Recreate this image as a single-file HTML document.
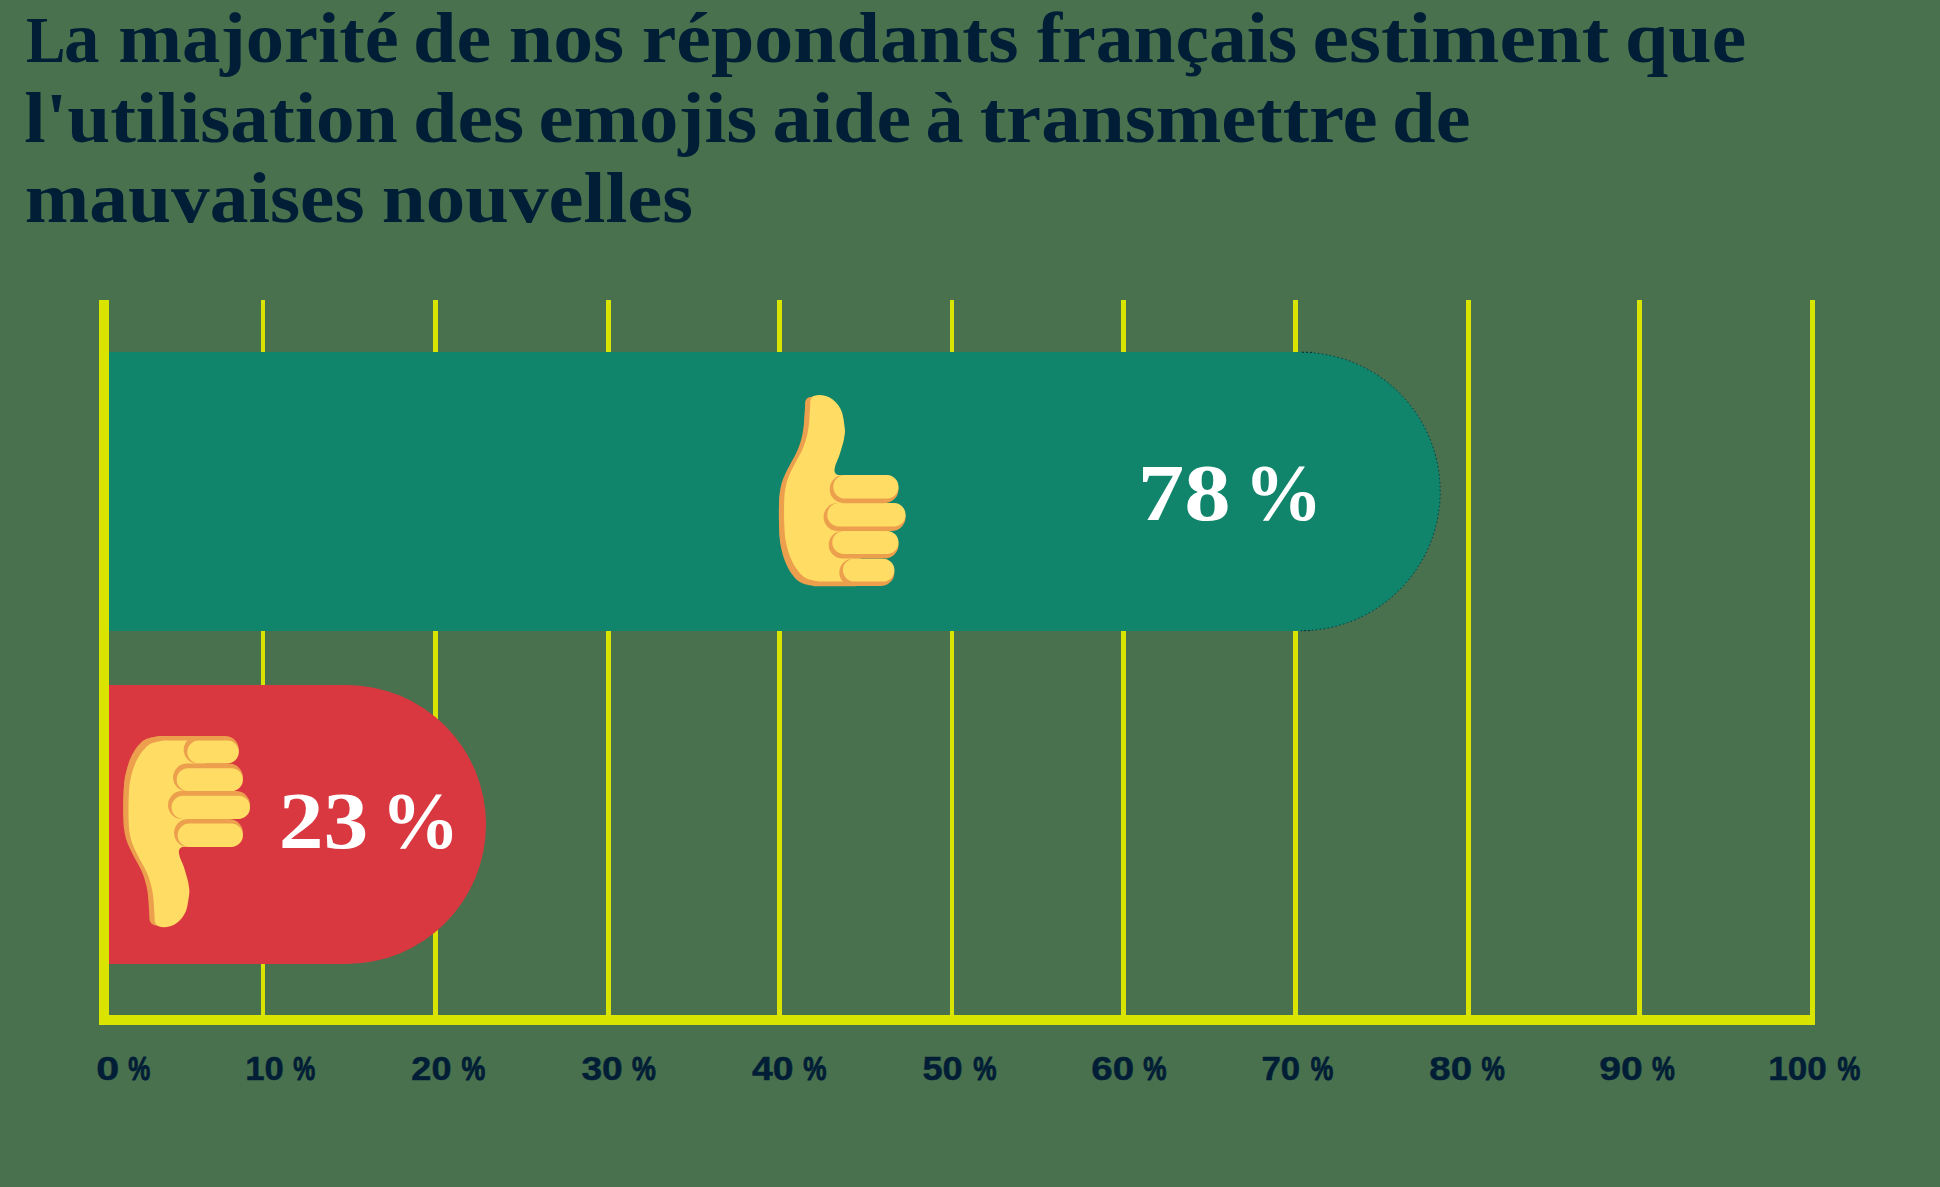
<!DOCTYPE html>
<html lang="fr">
<head>
<meta charset="utf-8">
<title>Emojis et mauvaises nouvelles</title>
<style>
  html, body { margin: 0; padding: 0; }
  body { width: 1940px; height: 1187px; overflow: hidden; background: #49714e; font-family: "Liberation Sans", sans-serif; }
  #chart { position: absolute; left: 0; top: 0; width: 1940px; height: 1187px; display: block; }
  .tt { font-family: "Liberation Serif", serif; font-weight: bold; font-size: 72px; fill: #021e36; }
  .vv { font-family: "Liberation Serif", serif; font-weight: bold; font-size: 80px; fill: #ffffff; }
  .aa { font-family: "Liberation Sans", sans-serif; font-weight: bold; font-size: 33px; fill: #021e36; stroke: #021e36; stroke-width: 0.5px; stroke-linejoin: round; }
  .ap { stroke-width: 1px; }
</style>
</head>
<body>
<svg id="chart" width="1940" height="1187" viewBox="0 0 1940 1187">
  <defs>
    <g id="thumb">
    <path d="M182.2 847.1C181.9 847.3 180.8 847.6 180.2 848.3C179.6 849.0 179.0 849.9 178.9 851.3C178.8 852.6 179.3 854.9 179.7 856.4C180.1 857.9 180.5 858.7 181.2 860.4C181.9 862.1 182.7 863.5 183.7 866.5C184.7 869.5 186.5 875.6 187.3 878.6C188.1 881.6 188.3 882.3 188.6 884.7C188.9 887.1 189.6 888.8 189.3 892.8C189.0 896.8 187.8 904.9 186.6 909.0C185.4 913.1 183.9 915.1 182.3 917.4C180.7 919.7 178.8 921.4 176.8 922.9C174.8 924.4 172.5 925.5 170.2 926.2C167.9 926.9 165.1 927.3 163.0 927.2C160.9 927.1 158.9 926.6 157.6 925.8C156.2 924.9 155.4 923.7 154.9 922.1C154.4 920.5 154.8 918.7 154.6 916.0C154.4 913.3 154.1 908.8 153.9 905.9C153.7 903.0 153.7 901.7 153.4 898.8C153.1 895.9 152.7 892.4 151.9 888.7C151.1 885.0 149.7 880.1 148.4 876.6C147.1 873.1 145.8 870.5 144.3 867.5C142.8 864.5 140.9 861.4 139.3 858.4C137.7 855.4 136.0 852.3 134.7 849.3C133.3 846.3 132.1 843.4 131.2 840.2C130.3 837.0 129.6 833.5 129.2 830.1C128.8 826.7 128.7 824.9 128.6 820.0C128.5 815.1 128.3 807.4 128.6 800.8C128.9 794.2 128.8 787.2 130.2 780.5C131.5 773.8 133.7 766.2 136.7 760.3C139.7 754.4 143.9 748.5 148.4 745.2C152.9 741.9 161.0 741.4 163.5 740.6L205 740.6L205 847.1Z" fill="#ec9f4d" transform="translate(-5 -4.7)"/>
    <path d="M182.2 847.1C181.9 847.3 180.8 847.6 180.2 848.3C179.6 849.0 179.0 849.9 178.9 851.3C178.8 852.6 179.3 854.9 179.7 856.4C180.1 857.9 180.5 858.7 181.2 860.4C181.9 862.1 182.7 863.5 183.7 866.5C184.7 869.5 186.5 875.6 187.3 878.6C188.1 881.6 188.3 882.3 188.6 884.7C188.9 887.1 189.6 888.8 189.3 892.8C189.0 896.8 187.8 904.9 186.6 909.0C185.4 913.1 183.9 915.1 182.3 917.4C180.7 919.7 178.8 921.4 176.8 922.9C174.8 924.4 172.5 925.5 170.2 926.2C167.9 926.9 165.1 927.3 163.0 927.2C160.9 927.1 158.9 926.6 157.6 925.8C156.2 924.9 155.4 923.7 154.9 922.1C154.4 920.5 154.8 918.7 154.6 916.0C154.4 913.3 154.1 908.8 153.9 905.9C153.7 903.0 153.7 901.7 153.4 898.8C153.1 895.9 152.7 892.4 151.9 888.7C151.1 885.0 149.7 880.1 148.4 876.6C147.1 873.1 145.8 870.5 144.3 867.5C142.8 864.5 140.9 861.4 139.3 858.4C137.7 855.4 136.0 852.3 134.7 849.3C133.3 846.3 132.1 843.4 131.2 840.2C130.3 837.0 129.6 833.5 129.2 830.1C128.8 826.7 128.7 824.9 128.6 820.0C128.5 815.1 128.3 807.4 128.6 800.8C128.9 794.2 128.8 787.2 130.2 780.5C131.5 773.8 133.7 766.2 136.7 760.3C139.7 754.4 143.9 748.5 148.4 745.2C152.9 741.9 161.0 741.4 163.5 740.6L205 740.6L205 847.1Z" fill="#ec9f4d" transform="translate(-5.2 -1.5)"/>
    <path d="M182.2 847.1C181.9 847.3 180.8 847.6 180.2 848.3C179.6 849.0 179.0 849.9 178.9 851.3C178.8 852.6 179.3 854.9 179.7 856.4C180.1 857.9 180.5 858.7 181.2 860.4C181.9 862.1 182.7 863.5 183.7 866.5C184.7 869.5 186.5 875.6 187.3 878.6C188.1 881.6 188.3 882.3 188.6 884.7C188.9 887.1 189.6 888.8 189.3 892.8C189.0 896.8 187.8 904.9 186.6 909.0C185.4 913.1 183.9 915.1 182.3 917.4C180.7 919.7 178.8 921.4 176.8 922.9C174.8 924.4 172.5 925.5 170.2 926.2C167.9 926.9 165.1 927.3 163.0 927.2C160.9 927.1 158.9 926.6 157.6 925.8C156.2 924.9 155.4 923.7 154.9 922.1C154.4 920.5 154.8 918.7 154.6 916.0C154.4 913.3 154.1 908.8 153.9 905.9C153.7 903.0 153.7 901.7 153.4 898.8C153.1 895.9 152.7 892.4 151.9 888.7C151.1 885.0 149.7 880.1 148.4 876.6C147.1 873.1 145.8 870.5 144.3 867.5C142.8 864.5 140.9 861.4 139.3 858.4C137.7 855.4 136.0 852.3 134.7 849.3C133.3 846.3 132.1 843.4 131.2 840.2C130.3 837.0 129.6 833.5 129.2 830.1C128.8 826.7 128.7 824.9 128.6 820.0C128.5 815.1 128.3 807.4 128.6 800.8C128.9 794.2 128.8 787.2 130.2 780.5C131.5 773.8 133.7 766.2 136.7 760.3C139.7 754.4 143.9 748.5 148.4 745.2C152.9 741.9 161.0 741.4 163.5 740.6L205 740.6L205 847.1Z" fill="#ffdc64"/>
    <rect x="183.7" y="736.0" width="55.1" height="27.4" rx="13.7" fill="#ec9f4d"/>
    <rect x="187.3" y="740.6" width="51.5" height="22.8" rx="11.4" fill="#ffdc64"/>
    <rect x="173.1" y="763.6" width="69.8" height="27.6" rx="13.8" fill="#ec9f4d"/>
    <rect x="176.7" y="768.2" width="66.2" height="23.0" rx="11.5" fill="#ffdc64"/>
    <rect x="168.0" y="791.1" width="82.0" height="27.9" rx="13.9" fill="#ec9f4d"/>
    <rect x="171.6" y="795.7" width="78.4" height="23.3" rx="11.6" fill="#ffdc64"/>
    <rect x="174.1" y="818.9" width="68.8" height="28.1" rx="14.1" fill="#ec9f4d"/>
    <rect x="177.7" y="823.5" width="65.2" height="23.5" rx="11.8" fill="#ffdc64"/>
    </g>
  </defs>
  <!-- gridlines and axes -->
  <g fill="#d9e500">
    <rect x="261" y="300" width="4" height="720"/>
    <rect x="433" y="300" width="5" height="720"/>
    <rect x="606" y="300" width="5" height="720"/>
    <rect x="777" y="300" width="5" height="720"/>
    <rect x="950" y="300" width="4" height="720"/>
    <rect x="1121" y="300" width="5" height="720"/>
    <rect x="1293" y="300" width="5" height="720"/>
    <rect x="1466" y="300" width="5" height="720"/>
    <rect x="1637" y="300" width="5" height="720"/>
    <rect x="1810" y="300" width="5" height="725"/>
    <rect x="99" y="300" width="10" height="725"/>
    <rect x="99" y="1015" width="1716" height="10"/>
  </g>
  <!-- bars -->
  <path fill="#10856b" d="M109 352 H1301 A139.5 139.5 0 0 1 1301 631 H109 Z"/>
  <path fill="#d93840" d="M109 685 H346.5 A139.5 139.5 0 0 1 346.5 964 H109 Z"/>
  <path fill="none" stroke="#021e36" stroke-width="1" stroke-dasharray="1.3 2.7" stroke-opacity="0.85" d="M1312 352.3 H1301 A139.2 139.2 0 0 1 1301 630.7 H1312"/>
  <!-- emojis -->
  <use href="#thumb"/>
  <use href="#thumb" transform="translate(655.6 1322.1) scale(1 -1)"/>
  <!-- title -->
  <g>
    <text class="tt" transform="translate(26.08 61.50) scale(0.8205 0.9)">L</text>
  <text class="tt" transform="translate(64.03 61.50) scale(0.9852 1.0)">a</text>
  <text class="tt" transform="translate(118.30 61.50) scale(1.0626 1.0)">majorité</text>
  <text class="tt" transform="translate(413.06 61.50) scale(1.0856 1.0)">de</text>
  <text class="tt" transform="translate(508.75 61.50) scale(1.1087 1.0)">nos</text>
  <text class="tt" transform="translate(641.78 61.50) scale(1.0826 1.0)">répondants</text>
  <text class="tt" transform="translate(1037.00 61.50) scale(1.0488 1.0)">français</text>
  <text class="tt" transform="translate(1312.43 61.50) scale(1.1415 1.0)">estiment</text>
  <text class="tt" transform="translate(1625.07 61.50) scale(1.0812 1.0)">que</text>
  <text class="tt" transform="translate(24.29 142.00) scale(1.0728 1.0)">l'utilisation</text>
  <text class="tt" transform="translate(413.00 142.00) scale(1.1111 1.0)">des</text>
  <text class="tt" transform="translate(538.54 142.00) scale(1.0932 1.0)">emojis</text>
  <text class="tt" transform="translate(772.56 142.00) scale(1.0832 1.0)">aide</text>
  <text class="tt" transform="translate(925.62 142.00) scale(1.0593 1.0)">à</text>
  <text class="tt" transform="translate(979.76 142.00) scale(1.0979 1.0)">transmettre</text>
  <text class="tt" transform="translate(1392.05 142.00) scale(1.0892 1.0)">de</text>
  <text class="tt" transform="translate(24.79 222.00) scale(1.0753 1.0)">mauvaises</text>
  <text class="tt" transform="translate(381.77 222.00) scale(1.0962 1.0)">nouvelles</text>
  </g>
  <!-- value labels -->
  <g>
    <text class="vv" transform="translate(1137.75 519.60) scale(1.1607 1.0)">78</text>
  <text class="vv" transform="translate(1244.17 519.60) scale(0.9769 1.0)">%</text>
  <text class="vv" transform="translate(278.70 848.00) scale(1.1200 1.0)">23</text>
  <text class="vv" transform="translate(381.37 848.00) scale(0.9769 1.0)">%</text>
  </g>
  <!-- axis labels -->
  <g>
    <text class="aa" transform="translate(96.21 1080.30) scale(1.2512 1.0)">0</text>
  <text class="aa ap" transform="translate(128.36 1080.30) scale(0.7493 1.0)">%</text>
  <text class="aa" transform="translate(245.33 1080.30) scale(1.0509 1.0)">10</text>
  <text class="aa ap" transform="translate(293.36 1080.30) scale(0.7493 1.0)">%</text>
  <text class="aa" transform="translate(411.37 1080.30) scale(1.0921 1.0)">20</text>
  <text class="aa ap" transform="translate(461.58 1080.30) scale(0.8110 1.0)">%</text>
  <text class="aa" transform="translate(581.42 1080.30) scale(1.1262 1.0)">30</text>
  <text class="aa ap" transform="translate(632.08 1080.30) scale(0.8110 1.0)">%</text>
  <text class="aa" transform="translate(752.00 1080.30) scale(1.1309 1.0)">40</text>
  <text class="aa ap" transform="translate(803.34 1080.30) scale(0.7934 1.0)">%</text>
  <text class="aa" transform="translate(922.43 1080.30) scale(1.0975 1.0)">50</text>
  <text class="aa ap" transform="translate(973.34 1080.30) scale(0.7934 1.0)">%</text>
  <text class="aa" transform="translate(1091.30 1080.30) scale(1.1649 1.0)">60</text>
  <text class="aa ap" transform="translate(1143.34 1080.30) scale(0.7934 1.0)">%</text>
  <text class="aa" transform="translate(1261.41 1080.30) scale(1.0557 1.0)">70</text>
  <text class="aa ap" transform="translate(1310.85 1080.30) scale(0.7669 1.0)">%</text>
  <text class="aa" transform="translate(1429.30 1080.30) scale(1.1649 1.0)">80</text>
  <text class="aa ap" transform="translate(1481.59 1080.30) scale(0.7934 1.0)">%</text>
  <text class="aa" transform="translate(1599.28 1080.30) scale(1.1868 1.0)">90</text>
  <text class="aa ap" transform="translate(1652.10 1080.30) scale(0.7758 1.0)">%</text>
  <text class="aa" transform="translate(1768.30 1080.30) scale(1.0647 1.0)">100</text>
  <text class="aa ap" transform="translate(1837.60 1080.30) scale(0.7758 1.0)">%</text>
  </g>
</svg>
</body>
</html>
